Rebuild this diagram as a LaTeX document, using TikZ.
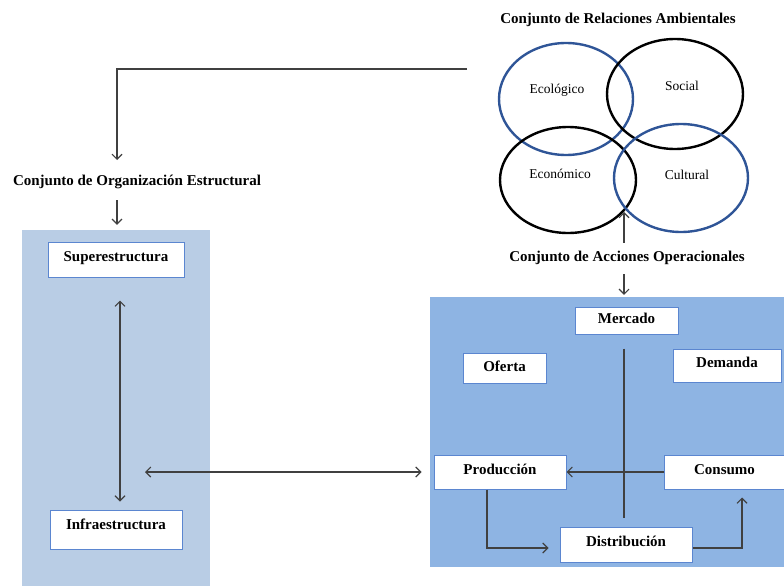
\documentclass[tikz,border=0pt]{standalone}
\usepackage{fontspec}
\setmainfont{Liberation Serif}
\usetikzlibrary{shapes.geometric,arrows.meta}
\definecolor{paleblue}{HTML}{B9CDE5}
\definecolor{midblue}{HTML}{8EB4E3}
\definecolor{edgeblue}{HTML}{5B86D0}
\definecolor{ringblue}{HTML}{2F5597}
\definecolor{linegray}{HTML}{404040}
\begin{document}
\begin{tikzpicture}[x=1pt,y=-1pt,
	title/.style={font=\bfseries\fontsize{15}{17}\selectfont},
	ring/.style={ellipse,draw=black,line width=2.4pt,inner sep=0pt},
	ringname/.style={font=\fontsize{13.5}{15}\selectfont},
	panel/.style={draw=none,inner sep=0pt},
	whitebox/.style={draw=edgeblue,line width=1pt,fill=white,inner sep=0pt,text height=10pt,text depth=6pt,font=\bfseries\fontsize{15}{17}\selectfont},
	arr/.style={draw=linegray,line width=1.1pt,-{Straight Barb[length=5pt,width=10pt]}},
	dbl/.style={draw=linegray,line width=1.1pt,{Straight Barb[length=5pt,width=10pt]}-{Straight Barb[length=5pt,width=10pt]}},
	plain/.style={draw=linegray,line width=1.1pt}]
	\useasboundingbox (0,0) rectangle (784,586);
	
	%Relaciones Ambientales
	\node[title] (reltitle) at (618,20) {Conjunto de Relaciones Ambientales};
	\node[ring,draw=ringblue,minimum width=134pt,minimum height=112pt] (eco) at (566,99) {};
	\node[ring,minimum width=136pt,minimum height=110pt] (soc) at (675,94) {};
	\node[ring,minimum width=136pt,minimum height=106pt] (econ) at (568,180) {};
	\node[ring,draw=ringblue,minimum width=134pt,minimum height=108pt] (cult) at (681,178) {};
	\node[ringname] (ecolbl) at (557,90) {Ecológico};
	\node[ringname] (soclbl) at (682,86) {Social};
	\node[ringname] (econlbl) at (560,174) {Económico};
	\node[ringname] (cultlbl) at (687,175) {Cultural};
	\coordinate (ringmeet) at (624,212);
	
	%Organizacion Estructural
	\node[title] (orgtitle) at (137,182) {Conjunto de Organización Estructural};
	\node[panel,fill=paleblue,minimum width=188pt,minimum height=356pt] (orgpanel) at (116,408) {};
	\node[whitebox,minimum width=136pt,minimum height=35pt,text depth=7pt] (super) at (116,259.5) {Superestructura};
	\node[whitebox,minimum width=132pt,minimum height=39pt,text depth=11pt] (infra) at (116,529.5) {Infraestructura};
	\coordinate (relstart) at (467,69);
	\coordinate (orgin) at (117,160);
	\coordinate (orgmid) at (145,472);
	
	%Acciones Operacionales
	\node[title] (opertitle) at (627,258) {Conjunto de Acciones Operacionales};
	\node[panel,fill=midblue,minimum width=360pt,minimum height=270pt] (operpanel) at (610,432) {};
	\node[whitebox,minimum width=103pt,minimum height=27pt,text depth=4pt] (merc) at (626.5,320.5) {Mercado};
	\node[whitebox,minimum width=83pt,minimum height=30pt,text depth=4pt] (ofer) at (504.5,368) {Oferta};
	\node[whitebox,minimum width=108pt,minimum height=33pt] (dem) at (727,365.5) {Demanda};
	\node[whitebox,minimum width=132pt,minimum height=34pt] (prod) at (500,472) {Producción};
	\node[whitebox,minimum width=121pt,minimum height=34pt] (cons) at (724.5,472) {Consumo};
	\node[whitebox,minimum width=132pt,minimum height=35pt] (dist) at (626,544.5) {Distribución};
	
	%Connectors
	\draw[arr] (relstart) -| (orgin);
	\draw[arr,shorten <=8pt,shorten >=5pt] ([xshift=-20pt]orgtitle.south) -- ([xshift=1pt]orgpanel.north);
	\draw[dbl,shorten <=23pt,shorten >=8pt] ([xshift=4pt]super.south) -- ([xshift=4pt]infra.north);
	\draw[dbl,shorten >=12pt] (orgmid) -- (prod.west);
	\draw[arr,shorten <=5pt] ([xshift=-3pt]opertitle.north) -- (ringmeet);
	\draw[arr,shorten <=6pt,shorten >=2pt] ([xshift=-3pt]opertitle.south) -- ([xshift=14pt]operpanel.north);
	\draw[plain,shorten <=14pt,shorten >=9pt] ([xshift=-2.5pt]merc.south) -- ([xshift=-2pt]dist.north);
	\draw[arr] (cons.west) -- (prod.east);
	\draw[arr,shorten >=11pt] ([xshift=-13pt]prod.south) |- ([yshift=-3.5pt]dist.west);
	\draw[arr,shorten >=8pt] ([yshift=-3.5pt]dist.east) -| ([xshift=17.5pt]cons.south);
\end{tikzpicture}
\end{document}
